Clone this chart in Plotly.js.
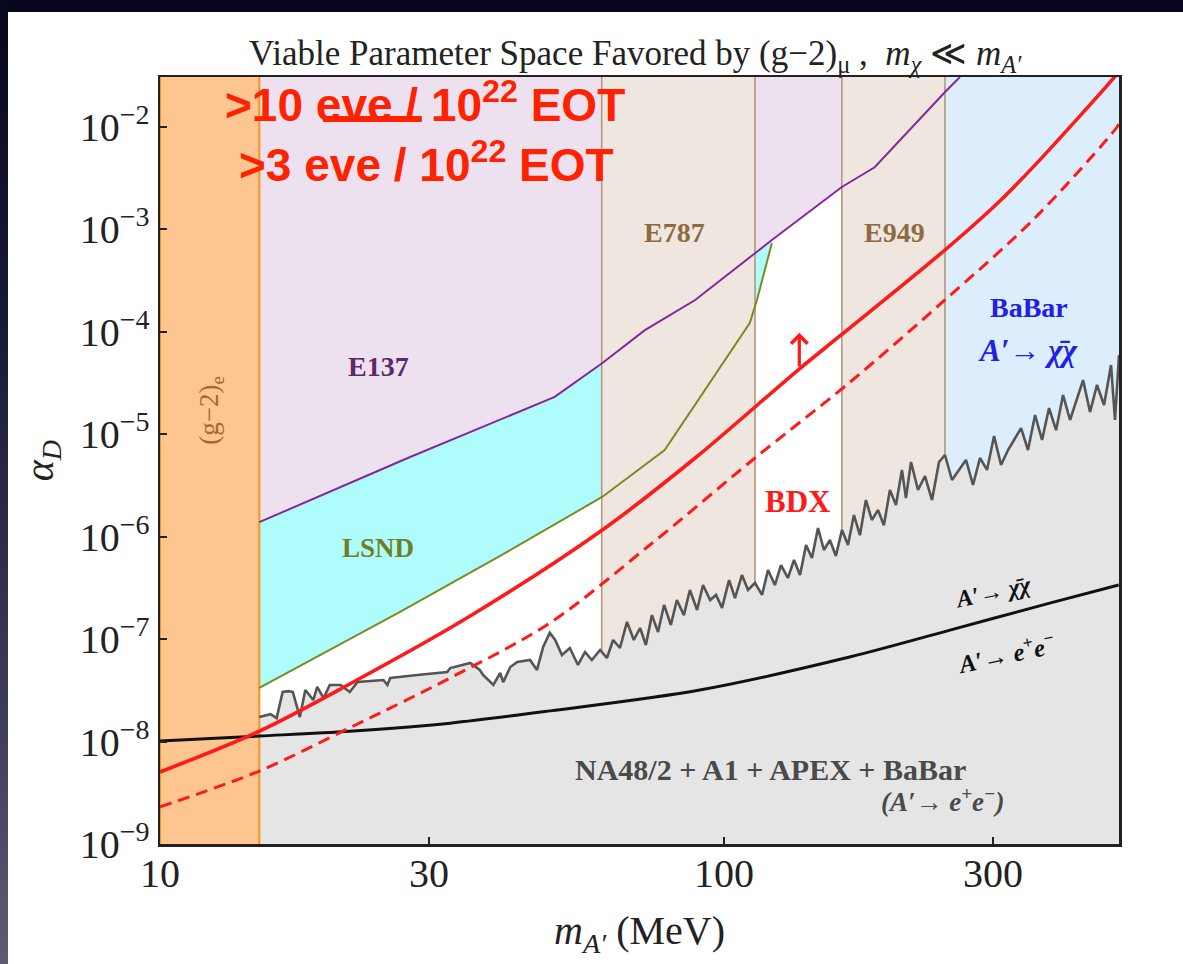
<!DOCTYPE html>
<html>
<head>
<meta charset="utf-8">
<script src="https://cdn.plot.ly/plotly-3.0.1.min.js"></script>
<style>
html,body{margin:0;padding:0;width:1183px;height:964px;overflow:hidden;background:#07071d;}
#edge{position:absolute;left:0;top:0;width:8px;height:964px;background:linear-gradient(to bottom,#07071d 0%,#1a1a3a 35%,#3a3858 70%,#5d5a74 100%);}
#sheet{position:absolute;left:8px;top:12px;right:0;bottom:0;background:#fff;}
#chart{position:absolute;left:0;top:0;width:1183px;height:964px;}
</style>
</head>
<body>
<div id="edge"></div><div id="sheet"></div><div id="chart"></div>
<script>
// Dark-photon parameter space: m_A' (MeV) versus alpha_D

// excluded mass bands (MeV)
const bandG2e = [10, 15.0];
const bandE787 = [60.7, 113.5];
const bandE949 = [161.8, 246.5];
const bandBaBarInv = [246.5, 502];

// E137 exclusion boundary
const e137Mass  = [15.0, 27.5, 50.1, 60.8, 72.4, 88.9, 113.5, 121.6, 161.8, 185, 246.6, 262];
const e137Alpha = [1.38e-6, 5.83e-6, 2.30e-5, 4.9e-5, 1.03e-4, 2.03e-4, 5.8e-4, 7.8e-4, 2.57e-3, 4.0e-3, 2.17e-2, 3.04e-2];

// LSND exclusion boundary
const lsndMass  = [15.0, 26.6, 40.1, 60.8, 78.5, 111.1, 114.4, 121.6];
const lsndAlpha = [3.33e-8, 1.83e-7, 6.46e-7, 2.43e-6, 6.98e-6, 1.21e-4, 2.03e-4, 7.3e-4];

// visible-decay limits (NA48/2 + A1 + APEX + BaBar)
const visMass = [15.0, 15.7, 16.1, 16.5, 16.9, 17.2, 17.7, 18.1, 18.7, 19.0, 19.5, 20.0, 20.9, 21.7, 22.4, 23.6, 24.9, 25.3, 25.6, 28.6,
  32.3, 32.7, 35.5, 36.9, 37.4, 39.0, 40.1, 40.6, 41.8, 43.0, 45.3, 46.6, 47.8, 49.1,
  50.2, 51.6, 53.3, 55.1, 56.7, 58.3, 60.3, 62.0, 63.6, 65.4, 67.3, 69.2, 71.0, 72.7, 74.5, 76.4, 78.3, 80.5, 82.5, 84.9,
  87.0, 89.6, 91.8, 94.5, 96.8, 99.2, 102.1, 104.6, 107.6, 110.3, 113.5, 116.8, 119.7, 123.1, 126.2, 129.8, 133.1, 136.4, 139.8, 143.2,
  146.8, 150.4, 154.1, 157.9, 161.9, 165.9, 170.0, 174.2, 178.5, 182.9, 187.5, 192.1, 196.9, 201.8, 206.8, 210.2, 214.6, 220.8, 227.2, 233.8,
  240.6, 246.5, 253.7, 261.0, 268.6, 276.4, 284.4, 292.7, 301.2, 309.9, 318.9, 326.8, 336.3, 346.0, 356.1, 366.4, 377.0, 388.0, 399.2, 410.8,
  422.7, 433.2, 445.7, 458.6, 471.9, 485.6, 493.5, 501.7];
const visAlpha = [1.73e-8, 1.85e-8, 1.69e-8, 3.04e-8, 3.10e-8, 3.04e-8, 1.73e-8, 3.18e-8, 2.54e-8, 3.41e-8, 2.65e-8, 3.56e-8, 3.56e-8, 3.04e-8, 3.80e-8, 3.90e-8, 3.98e-8, 3.56e-8, 4.17e-8, 4.46e-8,
  4.76e-8, 5.21e-8, 5.83e-8, 4.99e-8, 4.46e-8, 3.56e-8, 4.66e-8, 3.80e-8, 5.33e-8, 5.97e-8, 6.24e-8, 4.99e-8, 8.36e-8, 1.15e-7,
  9.78e-8, 6.98e-8, 8.17e-8, 5.58e-8, 7.47e-8, 6.24e-8, 7.81e-8, 6.53e-8, 9.78e-8, 8.17e-8, 1.47e-7, 9.78e-8, 1.28e-7, 8.74e-8, 1.71e-7, 1.17e-7, 2.15e-7, 1.37e-7, 2.40e-7, 1.71e-7,
  3.01e-7, 1.92e-7, 3.36e-7, 2.40e-7, 2.69e-7, 2.01e-7, 3.76e-7, 2.51e-7, 4.21e-7, 3.01e-7, 3.52e-7, 2.69e-7, 4.71e-7, 3.36e-7, 5.27e-7, 3.94e-7, 5.90e-7, 4.21e-7, 8.26e-7, 6.17e-7,
  1.21e-6, 7.39e-7, 9.25e-7, 6.45e-7, 1.16e-6, 8.26e-7, 1.62e-6, 1.03e-6, 2.27e-6, 1.45e-6, 1.81e-6, 1.29e-6, 2.84e-6, 2.03e-6, 4.46e-6, 2.37e-6, 5.33e-6, 2.84e-6, 3.89e-6, 2.27e-6,
  5.33e-6, 6.24e-6, 3.56e-6, 4.46e-6, 5.58e-6, 3.18e-6, 5.83e-6, 4.46e-6, 9.56e-6, 4.99e-6, 6.98e-6, 8.74e-6, 1.14e-5, 6.98e-6, 1.53e-5, 8.74e-6, 1.79e-5, 1.09e-5, 2.40e-5, 1.37e-5,
  2.25e-5, 3.36e-5, 1.64e-5, 3.01e-5, 1.92e-5, 4.71e-5, 1.37e-5, 5.90e-5];

// A' -> chi chi versus A' -> e+ e- dominance boundary
const decayMass  = [10, 15, 21.7, 32.7, 49.2, 90.6, 167, 251.6, 378, 501];
const decayAlpha = [1.01e-8, 1.13e-8, 1.26e-8, 1.51e-8, 1.99e-8, 3.18e-8, 6.67e-8, 1.22e-7, 2.24e-7, 3.37e-7];

// BDX reach: >10 events and >3 events for 1e22 EOT
const bdx10Mass  = [10, 15.0, 21.7, 35.0, 60.5, 88.9, 135.3, 161.3, 246.5, 309.8, 355.9, 487.5, 502];
const bdx10Alpha = [5.04e-9, 1.26e-8, 3.64e-8, 1.60e-7, 1.13e-6, 5.83e-6, 4.21e-5, 9.25e-5, 6.24e-4, 1.92e-3, 4.2e-3, 2.85e-2, 3.5e-2];
const bdx3Mass   = [10, 15.0, 21.7, 32.7, 49.1, 73.9, 113.5, 167.3, 246.5, 355.9, 497.7, 502];
const bdx3Alpha  = [2.30e-9, 5.15e-9, 1.36e-8, 4.17e-8, 1.43e-7, 8.26e-7, 5.83e-6, 3.21e-5, 2.03e-4, 1.28e-3, 9.89e-3, 1.08e-2];

// arrow pointing into the BDX-sensitive region
const arrowMass = 136;
const arrowBase = 4.4e-5;
const arrowTip  = 9.7e-5;

// axis ticks
const xTickVals = [10, 30, 100, 300];
const xTickText = ['10', '30', '100', '300'];
const yTickVals = [1e-9, 1e-8, 1e-7, 1e-6, 1e-5, 1e-4, 1e-3, 1e-2];
const yTickText = ['10<sup>−9</sup>', '10<sup>−8</sup>', '10<sup>−7</sup>', '10<sup>−6</sup>', '10<sup>−5</sup>', '10<sup>−4</sup>', '10<sup>−3</sup>', '10<sup>−2</sup>'];

const FLOOR = 1e-10, CEIL = 1;
const serif = 'Liberation Serif, Times New Roman, serif';

function band(range, fill, edge, edgeWidth) {
  return {
    x: [range[0], range[0], range[1], range[1], range[0]],
    y: [FLOOR, CEIL, CEIL, FLOOR, FLOOR],
    type: 'scatter', mode: 'lines', fill: 'toself', fillcolor: fill,
    line: {color: edge, width: edgeWidth}, hoverinfo: 'skip'
  };
}
function curve(x, y, color, width, dash, smooth) {
  return {x: x, y: y, type: 'scatter', mode: 'lines',
          line: {color: color, width: width, dash: dash || 'solid',
                 shape: smooth ? 'spline' : 'linear', smoothing: smooth ? 0.9 : 1},
          hoverinfo: 'skip'};
}

// E137 region (above its boundary)
const e137Fill = {
  x: e137Mass.concat([e137Mass[e137Mass.length - 1], e137Mass[0]]),
  y: e137Alpha.concat([CEIL, CEIL]),
  type: 'scatter', mode: 'lines', fill: 'toself', fillcolor: '#EEE1EF',
  line: {width: 0}, hoverinfo: 'skip'
};

// LSND region (between LSND boundary and E137 boundary)
const lsndTop = lsndMass[lsndMass.length - 1];
const e137Below = e137Mass.map((m, i) => [m, e137Alpha[i]]).filter(p => p[0] <= lsndTop).reverse();
const lsndFill = {
  x: lsndMass.concat(e137Below.map(p => p[0])),
  y: lsndAlpha.concat(e137Below.map(p => p[1])),
  type: 'scatter', mode: 'lines', fill: 'toself', fillcolor: '#AFFCFC',
  line: {width: 0}, hoverinfo: 'skip'
};

// visible-decay excluded region (below the limit curve)
const visFill = {
  x: visMass.concat([visMass[visMass.length - 1], visMass[0]]),
  y: visAlpha.concat([FLOOR, FLOOR]),
  type: 'scatter', mode: 'lines', fill: 'toself', fillcolor: '#E5E5E5',
  line: {width: 0}, hoverinfo: 'skip'
};

const traces = [
  e137Fill,
  lsndFill,
  band(bandBaBarInv, '#DCEEFB', 'rgba(0,0,0,0)', 0),
  band(bandE787, '#EFE6DF', '#B5977B', 1.6),
  band(bandE949, '#EFE6DF', '#B5977B', 1.6),
  visFill,
  band(bandG2e, '#FDC690', '#F7941E', 2),
  curve(lsndMass, lsndAlpha, '#7C8A22', 2),
  curve(e137Mass, e137Alpha, '#85279A', 2),
  curve(decayMass, decayAlpha, '#111111', 3, 'solid', true),
  curve(visMass, visAlpha, '#555555', 2.6),
  curve(bdx3Mass, bdx3Alpha, '#FF1A1A', 3, '12px,7px', true),
  curve(bdx10Mass, bdx10Alpha, '#FF1A1A', 3.6, 'solid', true)
];

function note(text, x, y, size, color, extra) {
  return Object.assign({
    text: text, x: x, y: y, xref: 'paper', yref: 'paper',
    xanchor: 'center', yanchor: 'middle', showarrow: false,
    font: {family: serif, size: size, color: color}
  }, extra || {});
}
const redSans = {family: 'Liberation Sans, Arial, sans-serif', size: 46, color: '#FF2200'};

const annotations = [
  note('(g−2)<sub>e</sub>', 0.053, 0.566, 27, '#A8672E', {textangle: -90}),
  note('<b>E137</b>', 0.228, 0.622, 28, '#5A2A6A'),
  note('<b>LSND</b>', 0.227, 0.386, 27, '#717F1E'),
  note('<b>E787</b>', 0.536, 0.797, 28, '#8E6A3F'),
  note('<b>E949</b>', 0.766, 0.797, 28, '#8E6A3F'),
  note('<b>BaBar</b>', 0.906, 0.700, 28, '#2020E6'),
  note('<b><i>A′→ χ̄χ</i></b>', 0.905, 0.644, 31, '#2020E6'),
  note('<b>BDX</b>', 0.665, 0.446, 31, '#FF1A1A'),
  note('<b><i>A′→ χ̄χ</i></b>', 0.869, 0.329, 24, '#111', {textangle: -12}),
  note('<b><i>A′→ e<sup>+</sup>e<sup>−</sup></i></b>', 0.882, 0.249, 25, '#111', {textangle: -12}),
  note('<b>NA48/2 + A1 + APEX + BaBar</b>', 0.637, 0.0965, 30, '#4A4A4A'),
  note('<b><i>(A′→ e<sup>+</sup>e<sup>−</sup>)</i></b>', 0.8165, 0.0574, 27, '#4A4A4A'),
  {text: '<b>>10 eve / 10<sup>22</sup> EOT</b>', x: 0.2763, y: 0.967, xref: 'paper', yref: 'paper',
   xanchor: 'center', yanchor: 'middle', showarrow: false, font: redSans},
  {text: '<b>>3 eve / 10<sup>22</sup> EOT</b>', x: 0.2774, y: 0.8892, xref: 'paper', yref: 'paper',
   xanchor: 'center', yanchor: 'middle', showarrow: false, font: redSans},
  {text: '', x: Math.log10(arrowMass), y: Math.log10(arrowTip), xref: 'x', yref: 'y',
   ax: Math.log10(arrowMass), ay: Math.log10(arrowBase), axref: 'x', ayref: 'y',
   showarrow: true, arrowhead: 4, arrowsize: 1, arrowwidth: 3.2, arrowcolor: '#FF1A1A'}
];

const axisFont = {family: serif, size: 40, color: '#222'};

const layout = {
  width: 1183, height: 964,
  margin: {l: 160, r: 64, t: 77, b: 120, pad: 0},
  paper_bgcolor: 'rgba(0,0,0,0)', plot_bgcolor: '#ffffff',
  showlegend: false,
  title: {
    text: 'Viable Parameter Space Favored by (g−2)<sub>μ</sub> ,\u00a0\u00a0<i>m</i><sub><i>χ</i></sub> ≪ <i>m</i><sub><i>A′</i></sub>',
    font: {family: serif, size: 35, color: '#222'},
    x: 0.537, xref: 'container', xanchor: 'center',
    y: 0.945, yref: 'container', yanchor: 'middle'
  },
  xaxis: {
    type: 'log', range: [1, 2.7004],
    tickvals: xTickVals, ticktext: xTickText,
    ticks: 'inside', ticklen: 7, tickwidth: 2, tickcolor: '#222', ticklabelstandoff: -8,
    showline: true, linecolor: '#222', linewidth: 2.5, mirror: true,
    showgrid: false, zeroline: false, tickfont: axisFont,
    title: {text: '<i>m</i><sub><i>A′</i></sub> (MeV)', font: axisFont, standoff: 22}
  },
  yaxis: {
    type: 'log', range: [-9, -1.517],
    tickvals: yTickVals, ticktext: yTickText,
    ticks: 'inside', ticklen: 7, tickwidth: 2, tickcolor: '#222',
    showline: true, linecolor: '#222', linewidth: 2.5, mirror: true,
    showgrid: false, zeroline: false, tickfont: axisFont,
    title: {text: '<i>α</i><sub><i>D</i></sub>', font: axisFont, standoff: 14}
  },
  shapes: [
    {type: 'line', xref: 'paper', yref: 'paper', x0: 0.170, x1: 0.273, y0: 0.9453, y1: 0.9453,
     line: {color: '#FF2200', width: 6}}
  ],
  annotations: annotations
};

Plotly.newPlot('chart', traces, layout, {staticPlot: true, displayModeBar: false});
</script>
</body>
</html>
